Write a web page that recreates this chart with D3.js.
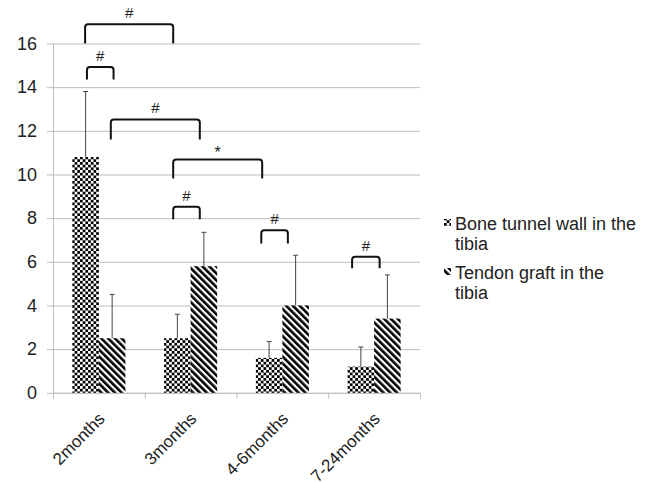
<!DOCTYPE html>
<html>
<head>
<meta charset="utf-8">
<script src="https://cdn.jsdelivr.net/npm/d3@7/dist/d3.min.js"></script>
<style>
  body { margin: 0; background: #fff; }
  svg { display: block; }
</style>
</head>
<body>
<div id="grafico"></div>
<script>
// 1. Datos
const categorias    = ['2months', '3months', '4-6months', '7-24months'];
const series        = [['Bone tunnel wall in the', 'tibia'], ['Tendon graft in the', 'tibia']];
const valoresHueso  = [10.8, 2.5, 1.6, 1.2];
const erroresHueso  = [3.0, 1.1, 0.75, 0.9];
const valoresTendon = [2.5, 5.8, 4.0, 3.4];
const erroresTendon = [2.0, 1.55, 2.3, 2.0];
const ticksY        = [0, 2, 4, 6, 8, 10, 12, 14, 16];

// corchetes de significancia (x en unidades de categoria, y en unidades del eje)
const corcheteDesde  = [0.35, 0.37, 0.63, 1.31, 1.31, 2.27, 3.26];
const corcheteHasta  = [1.31, 0.66, 1.60, 2.28, 1.60, 2.56, 3.56];
const corcheteArriba = [16.88, 14.92, 12.52, 10.69, 8.52, 7.45, 6.23];
const corcheteAbajo  = [16.0, 14.35, 11.6, 9.82, 7.95, 6.84, 5.70];
const corcheteTexto  = ['#', '#', '#', '*', '#', '#', '#'];

// 2. Configuracion
const ANCHO = 660, ALTO = 482;
const margins = { left: 53, right: 240, top: 43.5, bottom: 89.2 };
const COLOR_GRID = '#bdbdbd';
const FUENTE = 'Liberation Sans, Arial, sans-serif';

const svg = d3.select('#grafico').append('svg')
  .attr('width', ANCHO).attr('height', ALTO);

const defs = svg.append('defs');

const cuadros = defs.append('pattern')
  .attr('id', 'cuadros').attr('patternUnits', 'userSpaceOnUse')
  .attr('width', 5.4).attr('height', 5.4);
cuadros.append('rect').attr('width', 5.4).attr('height', 5.4).attr('fill', '#fff');
cuadros.append('rect').attr('width', 2.7).attr('height', 2.7).attr('fill', '#000');
cuadros.append('rect').attr('x', 2.7).attr('y', 2.7).attr('width', 2.7).attr('height', 2.7).attr('fill', '#000');

const rayas = defs.append('pattern')
  .attr('id', 'rayas').attr('patternUnits', 'userSpaceOnUse')
  .attr('width', 4.8).attr('height', 10)
  .attr('patternTransform', 'rotate(-45)');
rayas.append('rect').attr('width', 4.8).attr('height', 10).attr('fill', '#fff');
rayas.append('rect').attr('width', 2.6).attr('height', 10).attr('fill', '#000');

const rellenos = ['url(#cuadros)', 'url(#rayas)'];

const x0 = margins.left, x1 = ANCHO - margins.right;
const yTop = margins.top, yBot = ALTO - margins.bottom;

const fx = d3.scaleBand().domain(categorias).range([x0, x1]);
const fxLin = d3.scaleLinear().domain([0, categorias.length]).range([x0, x1]);
const anchoGrupo = fx.bandwidth() * 0.578;
const fxSerie = d3.scaleBand().domain([0, 1])
  .range([(fx.bandwidth() - anchoGrupo) / 2, (fx.bandwidth() + anchoGrupo) / 2]);
const fy = d3.scaleLinear().domain([0, 16]).range([yBot, yTop]);

// 3. Rejilla y ejes
svg.append('g')
  .attr('transform', `translate(${x0},0)`)
  .call(d3.axisLeft(fy).tickValues(ticksY).tickSize(-(x1 - x0)).tickFormat(''))
  .call(g => g.select('.domain').remove())
  .call(g => g.selectAll('line').attr('stroke', COLOR_GRID));

const ejeY = svg.append('g')
  .attr('transform', `translate(${x0},0)`)
  .call(d3.axisLeft(fy).tickValues(ticksY).tickSizeInner(6).tickSizeOuter(0).tickPadding(10));
ejeY.select('.domain').attr('stroke', COLOR_GRID);
ejeY.selectAll('line').attr('stroke', COLOR_GRID);
ejeY.selectAll('text').attr('font-family', FUENTE).attr('font-size', 18).attr('fill', '#222');

const ejeX = svg.append('g')
  .attr('transform', `translate(0,${yBot})`)
  .call(d3.axisBottom(fxLin).tickValues(d3.range(categorias.length + 1)).tickSizeInner(6).tickSizeOuter(0).tickFormat(''));
ejeX.select('.domain').attr('stroke', COLOR_GRID);
ejeX.selectAll('line').attr('stroke', COLOR_GRID);

svg.append('g').selectAll('text').data(categorias).join('text')
  .attr('transform', d => `translate(${fx(d) + fx.bandwidth() / 2 + 7},${yBot + 27}) rotate(-45)`)
  .attr('text-anchor', 'end')
  .attr('font-family', FUENTE).attr('font-size', 17).attr('fill', '#222')
  .text(d => d);

// 4. Barras
const filas = categorias.map((c, i) => ({
  cat: c,
  vals: [
    { s: 0, v: valoresHueso[i], e: erroresHueso[i] },
    { s: 1, v: valoresTendon[i], e: erroresTendon[i] }
  ]
}));

const grupos = svg.append('g').selectAll('g').data(filas).join('g')
  .attr('transform', d => `translate(${fx(d.cat)},0)`);

grupos.selectAll('rect').data(d => d.vals).join('rect')
  .attr('x', d => fxSerie(d.s))
  .attr('y', d => fy(d.v))
  .attr('width', fxSerie.bandwidth())
  .attr('height', d => fy(0) - fy(d.v))
  .attr('fill', d => rellenos[d.s]);

const errores = grupos.selectAll('g.err').data(d => d.vals).join('g').attr('class', 'err')
  .attr('stroke', '#444').attr('stroke-width', 1);
errores.append('line')
  .attr('x1', d => fxSerie(d.s) + fxSerie.bandwidth() / 2)
  .attr('x2', d => fxSerie(d.s) + fxSerie.bandwidth() / 2)
  .attr('y1', d => fy(d.v)).attr('y2', d => fy(d.v + d.e));
errores.append('line')
  .attr('x1', d => fxSerie(d.s) + fxSerie.bandwidth() / 2 - 2.5)
  .attr('x2', d => fxSerie(d.s) + fxSerie.bandwidth() / 2 + 2.5)
  .attr('y1', d => fy(d.v + d.e)).attr('y2', d => fy(d.v + d.e));

// 5. Corchetes
const corchetes = corcheteTexto.map((t, i) => ({
  a: fxLin(corcheteDesde[i]), b: fxLin(corcheteHasta[i]),
  top: fy(corcheteArriba[i]), bot: fy(corcheteAbajo[i]), t: t
}));
const r = 3;
svg.append('g').selectAll('path').data(corchetes).join('path')
  .attr('d', d => `M${d.a},${d.bot} L${d.a},${d.top + r} Q${d.a},${d.top} ${d.a + r},${d.top} ` +
                  `L${d.b - r},${d.top} Q${d.b},${d.top} ${d.b},${d.top + r} L${d.b},${d.bot}`)
  .attr('fill', 'none').attr('stroke', '#111').attr('stroke-width', 2);
svg.append('g').selectAll('text').data(corchetes).join('text')
  .attr('x', d => (d.a + d.b) / 2)
  .attr('y', d => d.top - (d.t === '*' ? 1 : 6))
  .attr('text-anchor', 'middle')
  .attr('font-family', FUENTE).attr('font-size', d => d.t === '*' ? 16 : 15).attr('fill', '#222')
  .text(d => d.t);

// 6. Leyenda
const leyenda = svg.append('g').selectAll('g').data(series).join('g')
  .attr('transform', (d, i) => `translate(444,${223 + i * 49})`);
leyenda.append('rect')
  .attr('x', 0).attr('y', -4).attr('width', 7).attr('height', 7)
  .attr('fill', (d, i) => rellenos[i]);
leyenda.append('text')
  .attr('x', 11).attr('y', 6.5)
  .attr('font-family', FUENTE).attr('font-size', 18).attr('fill', '#222')
  .selectAll('tspan').data(d => d).join('tspan')
  .attr('x', 11).attr('dy', (d, i) => i === 0 ? 0 : 20.5)
  .text(d => d);
</script>
</body>
</html>
